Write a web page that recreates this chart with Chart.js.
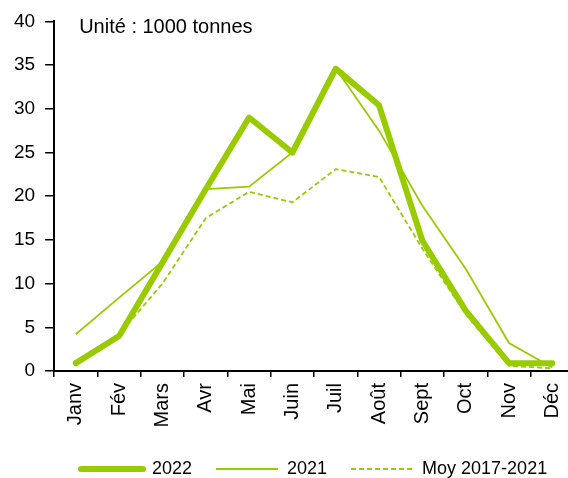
<!DOCTYPE html>
<html>
<head>
<meta charset="utf-8">
<script src="https://cdn.jsdelivr.net/npm/chart.js@4/dist/chart.umd.min.js"></script>
<style>
  html, body { margin: 0; padding: 0; background: #fff; overflow: hidden; }
  canvas { display: block; }
</style>
</head>
<body>
<canvas id="tonnageChart" width="578" height="478"></canvas>
<script>
const months = ['Janv', 'Fév', 'Mars', 'Avr', 'Mai', 'Juin', 'Juil', 'Août', 'Sept', 'Oct', 'Nov', 'Déc'];
const values2022 = [0.9, 4.0, 12.4, 20.8, 29.0, 25.0, 34.6, 30.4, 14.9, 6.9, 0.9, 0.9];
const values2021 = [4.2, 8.4, 12.5, 20.8, 21.1, 25.0, 34.6, 27.5, 18.9, 11.7, 3.2, 0.4];
const valuesMoy = [1.1, 4.2, 10.0, 17.5, 20.5, 19.3, 23.1, 22.2, 14.0, 6.5, 0.6, 0.3];
const yTicks = [0, 5, 10, 15, 20, 25, 30, 35, 40];
const unitLabel = 'Unité : 1000 tonnes';

const green = '#99CC00';
Chart.defaults.font.family = '"Liberation Sans", Arial, sans-serif';
Chart.defaults.color = '#000';

// unit note drawn inside the plot, top left
const unitText = {
    id: 'unitText',
    afterDraw(chart) {
        const ctx = chart.ctx;
        ctx.save();
        ctx.font = '20px "Liberation Sans", Arial, sans-serif';
        ctx.fillStyle = '#000';
        ctx.textBaseline = 'middle';
        ctx.fillText(unitLabel, chart.chartArea.left + 25, chart.chartArea.top + 6);
        ctx.restore();
    }
};

const ctxTonnage = document.getElementById('tonnageChart');
const myChart = new Chart(ctxTonnage, {
    type: 'line',
    data: {
        labels: months,
        datasets: [{
            label: '2022',
            data: values2022,
            borderColor: green,
            backgroundColor: green,
            borderWidth: 6,
            borderCapStyle: 'round',
            borderJoinStyle: 'round',
            pointRadius: 0,
            pointStyle: 'line'
        },
        {
            label: '2021',
            data: values2021,
            borderColor: green,
            backgroundColor: green,
            borderWidth: 1.8,
            pointRadius: 0,
            pointStyle: 'line'
        },
        {
            label: 'Moy 2017-2021',
            data: valuesMoy,
            borderColor: green,
            backgroundColor: green,
            borderWidth: 1.8,
            borderDash: [5, 3],
            pointRadius: 0,
            pointStyle: 'line'
        }
        ]
    },
    options: {
        responsive: false,
        animation: false,
        layout: {
            padding: { left: 4, right: 4, top: 11, bottom: -10 }
        },
        plugins: {
            legend: {
                position: 'bottom',
                fullSize: false,
                labels: {
                    usePointStyle: true,
                    pointStyleWidth: 62,
                    padding: 24,
                    font: { size: 18 },
                    color: '#000',
                    // point-style labels drop the dash, put it back from the dataset
                    generateLabels: chart => Chart.defaults.plugins.legend.labels.generateLabels(chart).map((item, i) => ({
                        ...item,
                        lineDash: chart.data.datasets[i].borderDash || [],
                        lineCap: chart.data.datasets[i].borderCapStyle || 'butt'
                    }))
                }
            },
            tooltip: { enabled: false }
        },
        scales: {
            x: {
                offset: true,
                afterFit: axis => {
                    axis.height = 65;
                    axis.paddingLeft = 0;
                    axis.paddingRight = 0;
                },
                grid: {
                    offset: true,
                    drawOnChartArea: false,
                    color: '#000',
                    lineWidth: 1.5,
                    tickLength: 6
                },
                border: { color: '#000', width: 2 },
                ticks: {
                    minRotation: 90,
                    maxRotation: 90,
                    padding: 6,
                    font: { size: 20 },
                    color: '#000'
                }
            },
            y: {
                min: 0,
                max: 40,
                afterBuildTicks: axis => { axis.ticks = yTicks.map(v => ({ value: v })); },
                grid: {
                    drawOnChartArea: false,
                    color: '#000',
                    lineWidth: 1.5,
                    tickLength: 9
                },
                border: { color: '#000', width: 2 },
                ticks: {
                    padding: 10,
                    font: { size: 19 },
                    color: '#000'
                }
            }
        }
    },
    plugins: [unitText]
});
</script>
</body>
</html>
